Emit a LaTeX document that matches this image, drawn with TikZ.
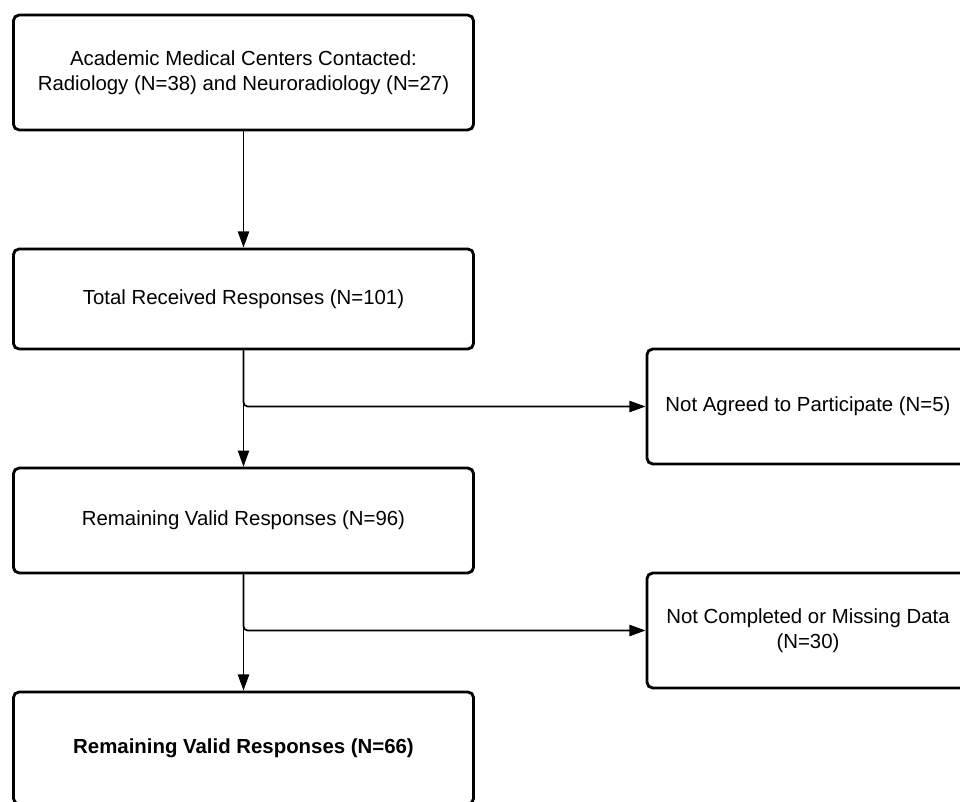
\documentclass[tikz,border=0pt]{standalone}
\usepackage{fontspec}
\setmainfont{Liberation Sans}
\usetikzlibrary{arrows.meta, positioning, calc}

\begin{document}
\begin{tikzpicture}[
    x=0.025cm, y=-0.025cm,
    box/.style={draw, rounded corners=4pt, line width=2pt, minimum width=11.5cm, font=\fontsize{14.5}{17.5}\selectfont, align=center, inner sep=0pt},
    sidebox/.style={box, minimum width=8.05cm, minimum height=2.87cm},
    flow/.style={line width=1.2pt, -{Triangle[length=11.5pt, width=8pt]}},
]
    \useasboundingbox (0,0) rectangle (960,802);
    \clip (0,0) rectangle (960,802);

    \node[box, minimum height=2.87cm] (contacted) at (243.5, 72.5) {
        Academic Medical Centers Contacted:\\
        Radiology (N=38) and Neuroradiology (N=27)
    };

    \node[box, minimum height=2.5cm] (received) at (243.5, 299) {Total Received Responses (N=101)};

    \node[box, minimum height=2.62cm] (valid) at (243.5, 520.5) {Remaining Valid Responses (N=96)};

    \node[box, minimum height=2.8cm] (final) at (243.5, 748) {\textbf{Remaining Valid Responses (N=66)}};

    \node[sidebox] (declined) at (808, 406.5) {Not Agreed to Participate (N=5)};

    \node[sidebox] (missing) at (808, 630.5) {
        Not Completed or Missing Data\\
        (N=30)
    };

    \draw[flow] (contacted) -- (received);
    \draw[flow] (received) -- (valid);
    \draw[flow, rounded corners=3pt] (received.south) |- (declined.west);
    \draw[flow] (valid) -- (final);
    \draw[flow, rounded corners=3pt] (valid.south) |- (missing.west);
\end{tikzpicture}
\end{document}
